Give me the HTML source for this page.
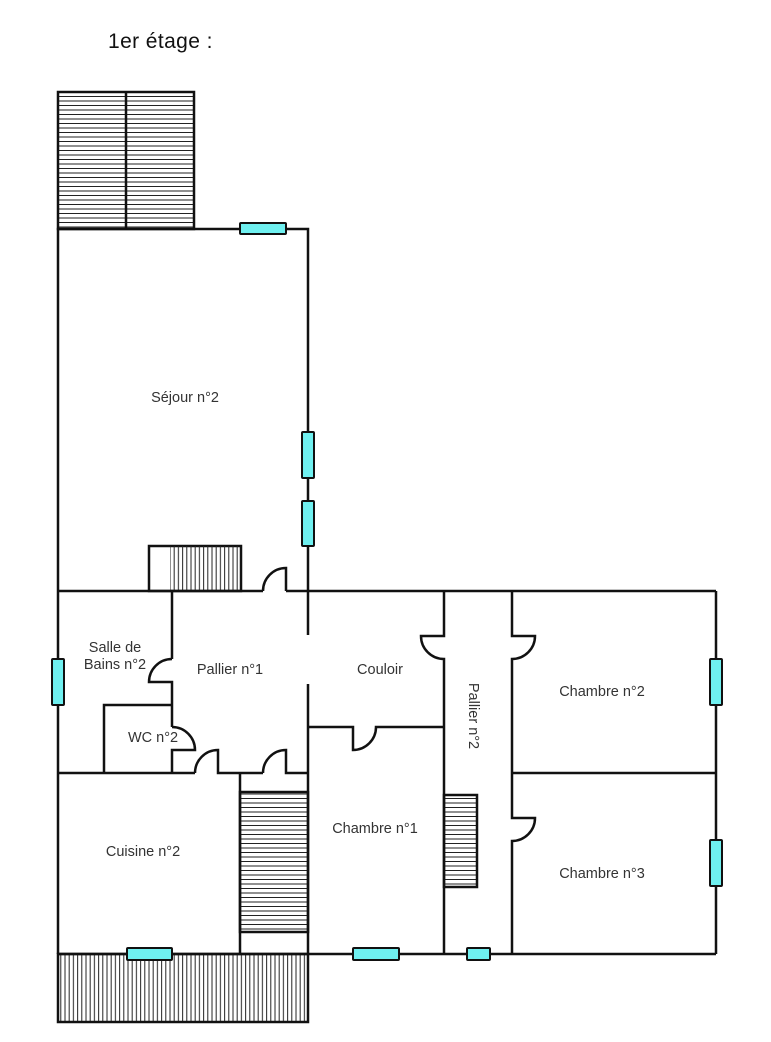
<!DOCTYPE html>
<html><head><meta charset="utf-8"><style>
html,body{margin:0;padding:0;background:#fff;}
svg{display:block;}
text{font-family:"Liberation Sans",sans-serif;fill:#333;font-size:14.5px;}
</style></head><body>
<svg width="771" height="1042" viewBox="0 0 771 1042" xmlns="http://www.w3.org/2000/svg">
<defs>
<pattern id="hh" width="10" height="4.5" patternUnits="userSpaceOnUse"><line x1="0" y1="2" x2="10" y2="2" stroke="#222" stroke-width="1"/></pattern>
<pattern id="vh" width="4.2" height="10" patternUnits="userSpaceOnUse"><line x1="2" y1="0" x2="2" y2="10" stroke="#222" stroke-width="1"/></pattern>
</defs>
<text x="108" y="48" style="font-size:21px;fill:#111;letter-spacing:0.4px">1er étage :</text>

<g stroke="#111" stroke-width="2.5" fill="none">
<rect x="58" y="92" width="136" height="137" fill="url(#hh)"/>
<line x1="126" y1="92" x2="126" y2="229"/>
<polyline points="58,954 58,229 308,229 308,635"/>
<rect x="149" y="546" width="92" height="45" fill="#fff"/>
<rect x="170" y="546" width="71" height="45" fill="url(#vh)" stroke="none"/>
<line x1="58" y1="591" x2="263" y2="591"/>
<line x1="286" y1="591" x2="716" y2="591"/>
<path d="M263,591 A23,23 0 0 1 286,568 L286,591"/>
<line x1="172" y1="591" x2="172" y2="659"/>
<path d="M172,659 A23,23 0 0 0 149,682 L172,682 L172,727"/>
<path d="M172,727 A23,23 0 0 1 195,750 L172,750 L172,773"/>
<polyline points="104,773 104,705 172,705"/>
<line x1="58" y1="773" x2="195" y2="773"/>
<path d="M195,773 A23,23 0 0 1 218,750 L218,773 L263,773"/>
<path d="M263,773 A23,23 0 0 1 286,750 L286,773 L308,773"/>
<line x1="308" y1="684" x2="308" y2="954"/>
<line x1="240" y1="773" x2="240" y2="954"/>
<rect x="240" y="792" width="68" height="140" fill="url(#hh)"/>
<path d="M308,727 L353,727 L353,750 A23,23 0 0 0 376,727 L444,727"/>
<path d="M444,591 L444,636 L421,636 A23,23 0 0 0 444,659 L444,954"/>
<rect x="444" y="795" width="33" height="92" fill="url(#hh)"/>
<path d="M512,591 L512,636 L535,636 A23,23 0 0 1 512,659 L512,818 L535,818 A23,23 0 0 1 512,841 L512,954"/>
<line x1="512" y1="773" x2="716" y2="773"/>
<line x1="716" y1="591" x2="716" y2="954"/>
<line x1="58" y1="954" x2="716" y2="954"/>
<rect x="58" y="954" width="250" height="68" fill="url(#vh)"/>
</g>
<g fill="#6ff0f0" stroke="#111" stroke-width="2">
<rect x="240" y="223" width="46" height="11" rx="1"/>
<rect x="302" y="432" width="12" height="46" rx="1"/>
<rect x="302" y="501" width="12" height="45" rx="1"/>
<rect x="52" y="659" width="12" height="46" rx="1"/>
<rect x="710" y="659" width="12" height="46" rx="1"/>
<rect x="710" y="840" width="12" height="46" rx="1"/>
<rect x="127" y="948" width="45" height="12" rx="1"/>
<rect x="353" y="948" width="46" height="12" rx="1"/>
<rect x="467" y="948" width="23" height="12" rx="1"/>
</g>
<g text-anchor="middle">
<text x="185" y="402">Séjour n°2</text>
<text x="115" y="652">Salle de</text>
<text x="115" y="669">Bains n°2</text>
<text x="230" y="674">Pallier n°1</text>
<text x="380" y="674">Couloir</text>
<text x="474" y="716" transform="rotate(90 474 716)" dy="5">Pallier n°2</text>
<text x="602" y="696">Chambre n°2</text>
<text x="153" y="742">WC n°2</text>
<text x="143" y="856">Cuisine n°2</text>
<text x="375" y="833">Chambre n°1</text>
<text x="602" y="878">Chambre n°3</text>
</g>
</svg>
</body></html>
